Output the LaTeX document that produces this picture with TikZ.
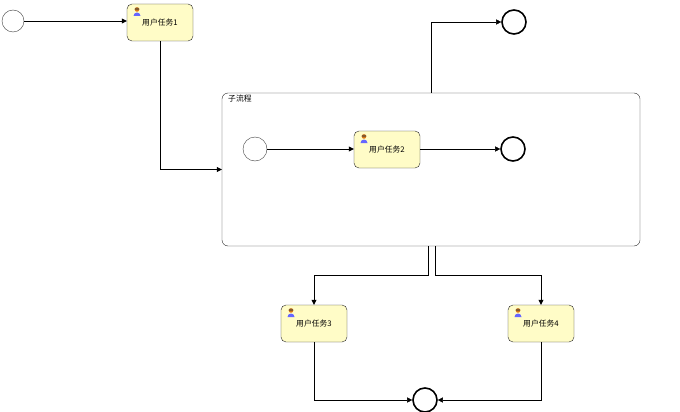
\documentclass[tikz,border=0pt]{standalone}
\usepackage{fontspec}
\newfontfamily\cjk{Noto Sans CJK SC}
\usetikzlibrary{arrows.meta}
\begin{document}
\begin{tikzpicture}[x=1pt,y=-1pt,
  task/.style={draw=black!85,fill=yellow!22,rounded corners=5pt,minimum width=66pt,minimum height=37pt,inner sep=0pt,font=\cjk\fontsize{7.8}{9}\selectfont},
  startev/.style={circle,draw=black!75,minimum size=22pt,inner sep=0pt},
  endev/.style={circle,draw,line width=1.6pt,minimum size=24pt,inner sep=0pt},
  flow/.style={draw,-{Triangle[length=5pt,width=5pt]}},
  user/.pic={\fill[orange!70!brown] (0,-2.5) circle (2.3pt);\fill[blue!60] (-3.5,4) arc[start angle=180,end angle=0,radius=3.5pt] -- cycle;\fill[brown!70!black] (0,-3) ellipse (2.4pt and 1.4pt);}]
\useasboundingbox (0,0) rectangle (680,412);
\node[startev] (s) at (13,21) {};
\node[task] (t1) at (160,22.5) {\raisebox{-4pt}{用户任务1}};
\pic at (137,12) {user};
\node[draw=black!85,rounded corners=6pt,minimum width=418pt,minimum height=153pt,inner sep=0pt] (sp) at (431,169.5) {};
\node[anchor=north west,font=\cjk\fontsize{7.8}{9}\selectfont,inner sep=0pt] (spl) at (228,95) {子流程};
\node[endev] (e1) at (514,22) {};
\node[startev,minimum size=24pt] (s2) at (255,149) {};
\node[task] (t2) at (387,149.5) {\raisebox{-4pt}{用户任务2}};
\pic at (364,139) {user};
\node[endev] (e2) at (513,149) {};
\node[task] (t3) at (314,323.5) {\raisebox{-4pt}{用户任务3}};
\pic at (291,313) {user};
\node[task] (t4) at (541,323.5) {\raisebox{-4pt}{用户任务4}};
\pic at (518,313) {user};
\node[endev] (e3) at (425,400) {};
\path[flow] (s) -- (s -| t1.west);
\path[flow] (t1.south) |- (sp.west);
\path[flow] (sp.north) |- (e1);
\path[flow] (s2) -- (s2 -| t2.west);
\path[flow] (t2.east |- e2) -- (e2);
\path[flow] (428,246) -- (428,275) -| (t3.north);
\path[flow] (435,246) -- (435,275) -| (t4.north);
\path[flow] (t3.south) |- (e3);
\path[flow] (t4.south) |- (e3);
\end{tikzpicture}
\end{document}
